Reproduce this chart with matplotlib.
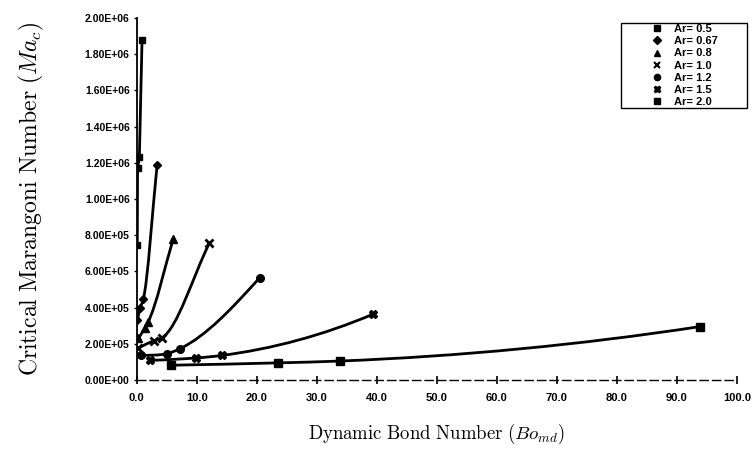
import numpy as np
import matplotlib
matplotlib.use('Agg')
import matplotlib.pyplot as plt
from matplotlib.path import Path
from matplotlib.patches import PathPatch, Rectangle
from matplotlib.lines import Line2D

# данные
ar_labels = ['Ar= 0.5', 'Ar= 0.67', 'Ar= 0.8', 'Ar= 1.0', 'Ar= 1.2', 'Ar= 1.5', 'Ar= 2.0']

bo_05 = [0.1, 0.15, 0.45, 0.9]
ma_05 = [7.45e5, 1.17e6, 1.23e6, 1.88e6]

bo_067 = [0.1, 0.6, 1.1, 3.4]
ma_067 = [3.3e5, 4.0e5, 4.45e5, 1.185e6]

bo_08 = [0.3, 1.4, 1.9, 6.1]
ma_08 = [2.3e5, 2.9e5, 3.2e5, 7.8e5]

bo_10 = [0.2, 2.9, 4.2, 12.1]
ma_10 = [1.75e5, 2.18e5, 2.33e5, 7.55e5]

bo_12 = [0.8, 5.0, 7.2, 20.5]
ma_12 = [1.36e5, 1.45e5, 1.73e5, 5.65e5]

bo_15 = [2.2, 9.9, 14.2, 39.4]
ma_15 = [1.09e5, 1.22e5, 1.36e5, 3.64e5]

bo_20 = [5.8, 23.6, 33.9, 93.8]
ma_20 = [0.82e5, 0.95e5, 1.05e5, 2.95e5]

# (x, y, маркер, размер, "прямота" сглаживания)
series = [(bo_05, ma_05, 's', 5, 1.0), (bo_067, ma_067, 'D', 4.5, 1.0),
          (bo_08, ma_08, '^', 6, 1.0), (bo_10, ma_10, 'x', 6, 1.0),
          (bo_12, ma_12, 'o', 5.5, 0.5), (bo_15, ma_15, 'X', 6, 0.0),
          (bo_20, ma_20, 's', 6, 0.0)]

XMAX, YMAX = 100.0, 2.0e6


def pchip_slopes(x, y):
    h = np.diff(x)
    d = np.diff(y) / h
    n = len(x)
    m = np.zeros(n)
    for k in range(1, n - 1):
        if d[k - 1] * d[k] > 0:
            w1 = 2 * h[k] + h[k - 1]
            w2 = h[k] + 2 * h[k - 1]
            m[k] = (w1 + w2) / (w1 / d[k - 1] + w2 / d[k])

    def end(h0, h1, d0, d1):
        s = ((2 * h0 + h1) * d0 - h0 * d1) / (h0 + h1)
        if np.sign(s) != np.sign(d0):
            return 0.0
        if np.sign(d0) != np.sign(d1) and abs(s) > 3 * abs(d0):
            return 3 * d0
        return s

    m[0] = end(h[0], h[1], d[0], d[1])
    m[-1] = end(h[-1], h[-2], d[-1], d[-2])
    return m


def smooth_path(x, y, a):
    # гладкая кривая через точки (эрмитов сплайн -> кривые Безье)
    x = np.asarray(x, float)
    y = np.asarray(y, float)
    mp = pchip_slopes(x, y)
    mc = np.gradient(y, x)
    mc[0] = (y[1] - y[0]) / (x[1] - x[0])
    mc[-1] = (y[-1] - y[-2]) / (x[-1] - x[-2])
    m = (1 - a) * mp + a * mc
    verts = [(x[0], y[0])]
    codes = [Path.MOVETO]
    for i in range(len(x) - 1):
        h = x[i + 1] - x[i]
        verts += [(x[i] + h / 3, y[i] + m[i] * h / 3),
                  (x[i + 1] - h / 3, y[i + 1] - m[i + 1] * h / 3),
                  (x[i + 1], y[i + 1])]
        codes += [Path.CURVE4] * 3
    return Path(verts, codes)


plt.rcParams['mathtext.fontset'] = 'cm'

fig = plt.figure(figsize=(7.55, 4.59), dpi=100)
ax = fig.add_axes([0.181, 0.172, 0.795, 0.789])

handles = []
for k, ((bx, my, mk, ms, a), lab) in enumerate(zip(series, ar_labels)):
    if k == 0:
        ax.plot(bx, my, color='black', lw=2.0, zorder=2)
    else:
        ax.add_patch(PathPatch(smooth_path(bx, my, a), fill=False, lw=2.0, ec='black',
                               capstyle='round', zorder=2))
    mew = 2.0 if mk == 'x' else 1.0
    ax.plot(bx, my, ls='none', marker=mk, ms=ms, color='black', mew=mew, zorder=3)
    handles.append(Line2D([], [], ls='none', marker=mk, ms=4.5, color='black',
                          mew=1.5 if mk == 'x' else 1.0, label=lab))

ax.set_xlim(0, XMAX)
ax.set_ylim(0, YMAX)
ax.set_xticks(np.arange(0, 101, 10))
ax.set_yticks(np.arange(0, 2.01e6, 2e5))
ax.set_xticklabels([f'{v:.1f}' for v in np.arange(0, 101, 10)],
                   fontsize=8, fontweight='bold', family='Liberation Sans')
ax.set_yticklabels([f'{v:.2E}' for v in np.arange(0, 2.01e6, 2e5)],
                   fontsize=7.5, fontweight='bold', family='Liberation Sans')
ax.tick_params(axis='x', direction='inout', length=6, width=1.2, pad=6)
ax.tick_params(axis='y', length=2, width=1, pad=3)

for s in ['top', 'right']:
    ax.spines[s].set_visible(False)
ax.spines['left'].set_linewidth(1.3)
ax.spines['bottom'].set_linewidth(1.0)
ax.spines['bottom'].set_linestyle((0, (6, 3)))

ax.set_xlabel(r'$\mathrm{Dynamic\ Bond\ Number\ }(Bo_{md})$', fontsize=13.5, labelpad=14)
ax.set_ylabel(r'$\mathrm{Critical\ Marangoni\ Number\ }(Ma_c)$', fontsize=17, labelpad=28)

# рамка легенды отдельно, легенда без рамки
W, H = 755.0, 459.0
fig.patches.append(Rectangle((621 / W, 1 - 108 / H), 126 / W, 85 / H, transform=fig.transFigure,
                             fill=False, ec='black', lw=1.0))
leg = fig.legend(handles=handles, loc='upper left', bbox_to_anchor=(651.8 / W, 1 - 24 / H),
                 prop={'family': 'Liberation Sans', 'weight': 'bold', 'size': 8},
                 frameon=False, labelspacing=0.2, handlelength=1.0, handletextpad=1.0,
                 borderpad=0, borderaxespad=0)

fig.savefig('out.png', dpi=100)
